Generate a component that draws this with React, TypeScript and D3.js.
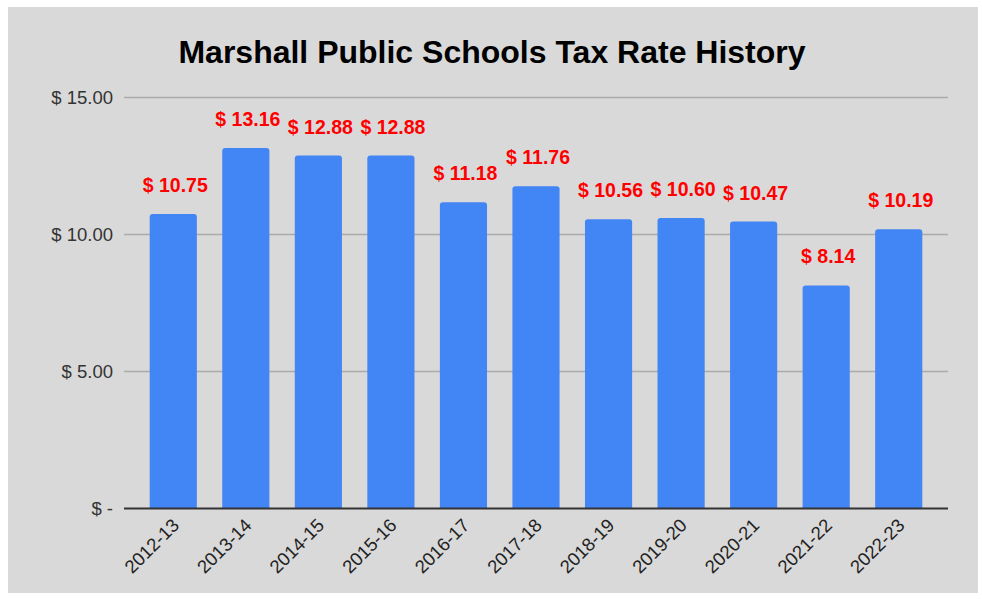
import React from "react";
import * as d3 from "d3";

const categories = ["2012-13","2013-14","2014-15","2015-16","2016-17","2017-18","2018-19","2019-20","2020-21","2021-22","2022-23"];
const values = [10.75, 13.16, 12.88, 12.88, 11.18, 11.76, 10.56, 10.60, 10.47, 8.14, 10.19];
const yTicks = [0, 5, 10, 15];
const title = "Marshall Public Schools Tax Rate History";

const W = 982, H = 600;
const font = "'Liberation Sans', Arial, sans-serif";

export default function App() {
  const x = d3.scaleBand<string>().domain(categories).range([137, 935]).paddingInner(0.35).paddingOuter(0.175);
  const y = d3.scaleLinear().domain([0, 15]).range([508.5, 97.5]);
  const fmtTick = (v: number) => (v === 0 ? "$ -" : "$ " + d3.format(".2f")(v));
  const fmtLabel = (v: number) => "$ " + d3.format(".2f")(v);
  return (
    <svg width={W} height={H} style={{ position: "absolute", left: 0, top: 0 }}>
      <rect x={0} y={0} width={W} height={H} fill="#ffffff" />
      <rect x={8} y={7} width={970} height={586} fill="#d9d9d9" />
      <text x={492} y={63} textAnchor="middle" fontFamily={font} fontWeight="bold" fontSize={32} fill="#000">{title}</text>
      {yTicks.filter(t => t > 0).map(t => (
        <line key={t} x1={124} x2={948} y1={y(t)} y2={y(t)} stroke="#ababab" strokeWidth={1.5} />
      ))}
      {yTicks.map(t => (
        <text key={"l" + t} x={113} y={y(t) + 6.5} textAnchor="end" fontFamily={font} fontSize={18.5} fill="#333">{fmtTick(t)}</text>
      ))}
      {categories.map((c, i) => {
        const x0 = x(c)!;
        const bw = x.bandwidth();
        const top = y(values[i]);
        return (
          <g key={c}>
            <path d={`M${x0},${y(0)} V${top + 3} Q${x0},${top} ${x0 + 3},${top} H${x0 + bw - 3} Q${x0 + bw},${top} ${x0 + bw},${top + 3} V${y(0)} Z`} fill="#4285f4" />
            <text x={x0 + bw / 2 + 2} y={top - 22} textAnchor="middle" fontFamily={font} fontWeight="bold" fontSize={19.5} fill="#ff0000">{fmtLabel(values[i])}</text>
            <text transform={`translate(${x0 + bw / 2 + 7},${y(0) + 18}) rotate(-45)`} textAnchor="end" fontFamily={font} fontSize={18.5} fill="#222">{c}</text>
          </g>
        );
      })}
      <line x1={124} x2={948} y1={y(0)} y2={y(0)} stroke="#333" strokeWidth={2} />
    </svg>
  );
}
